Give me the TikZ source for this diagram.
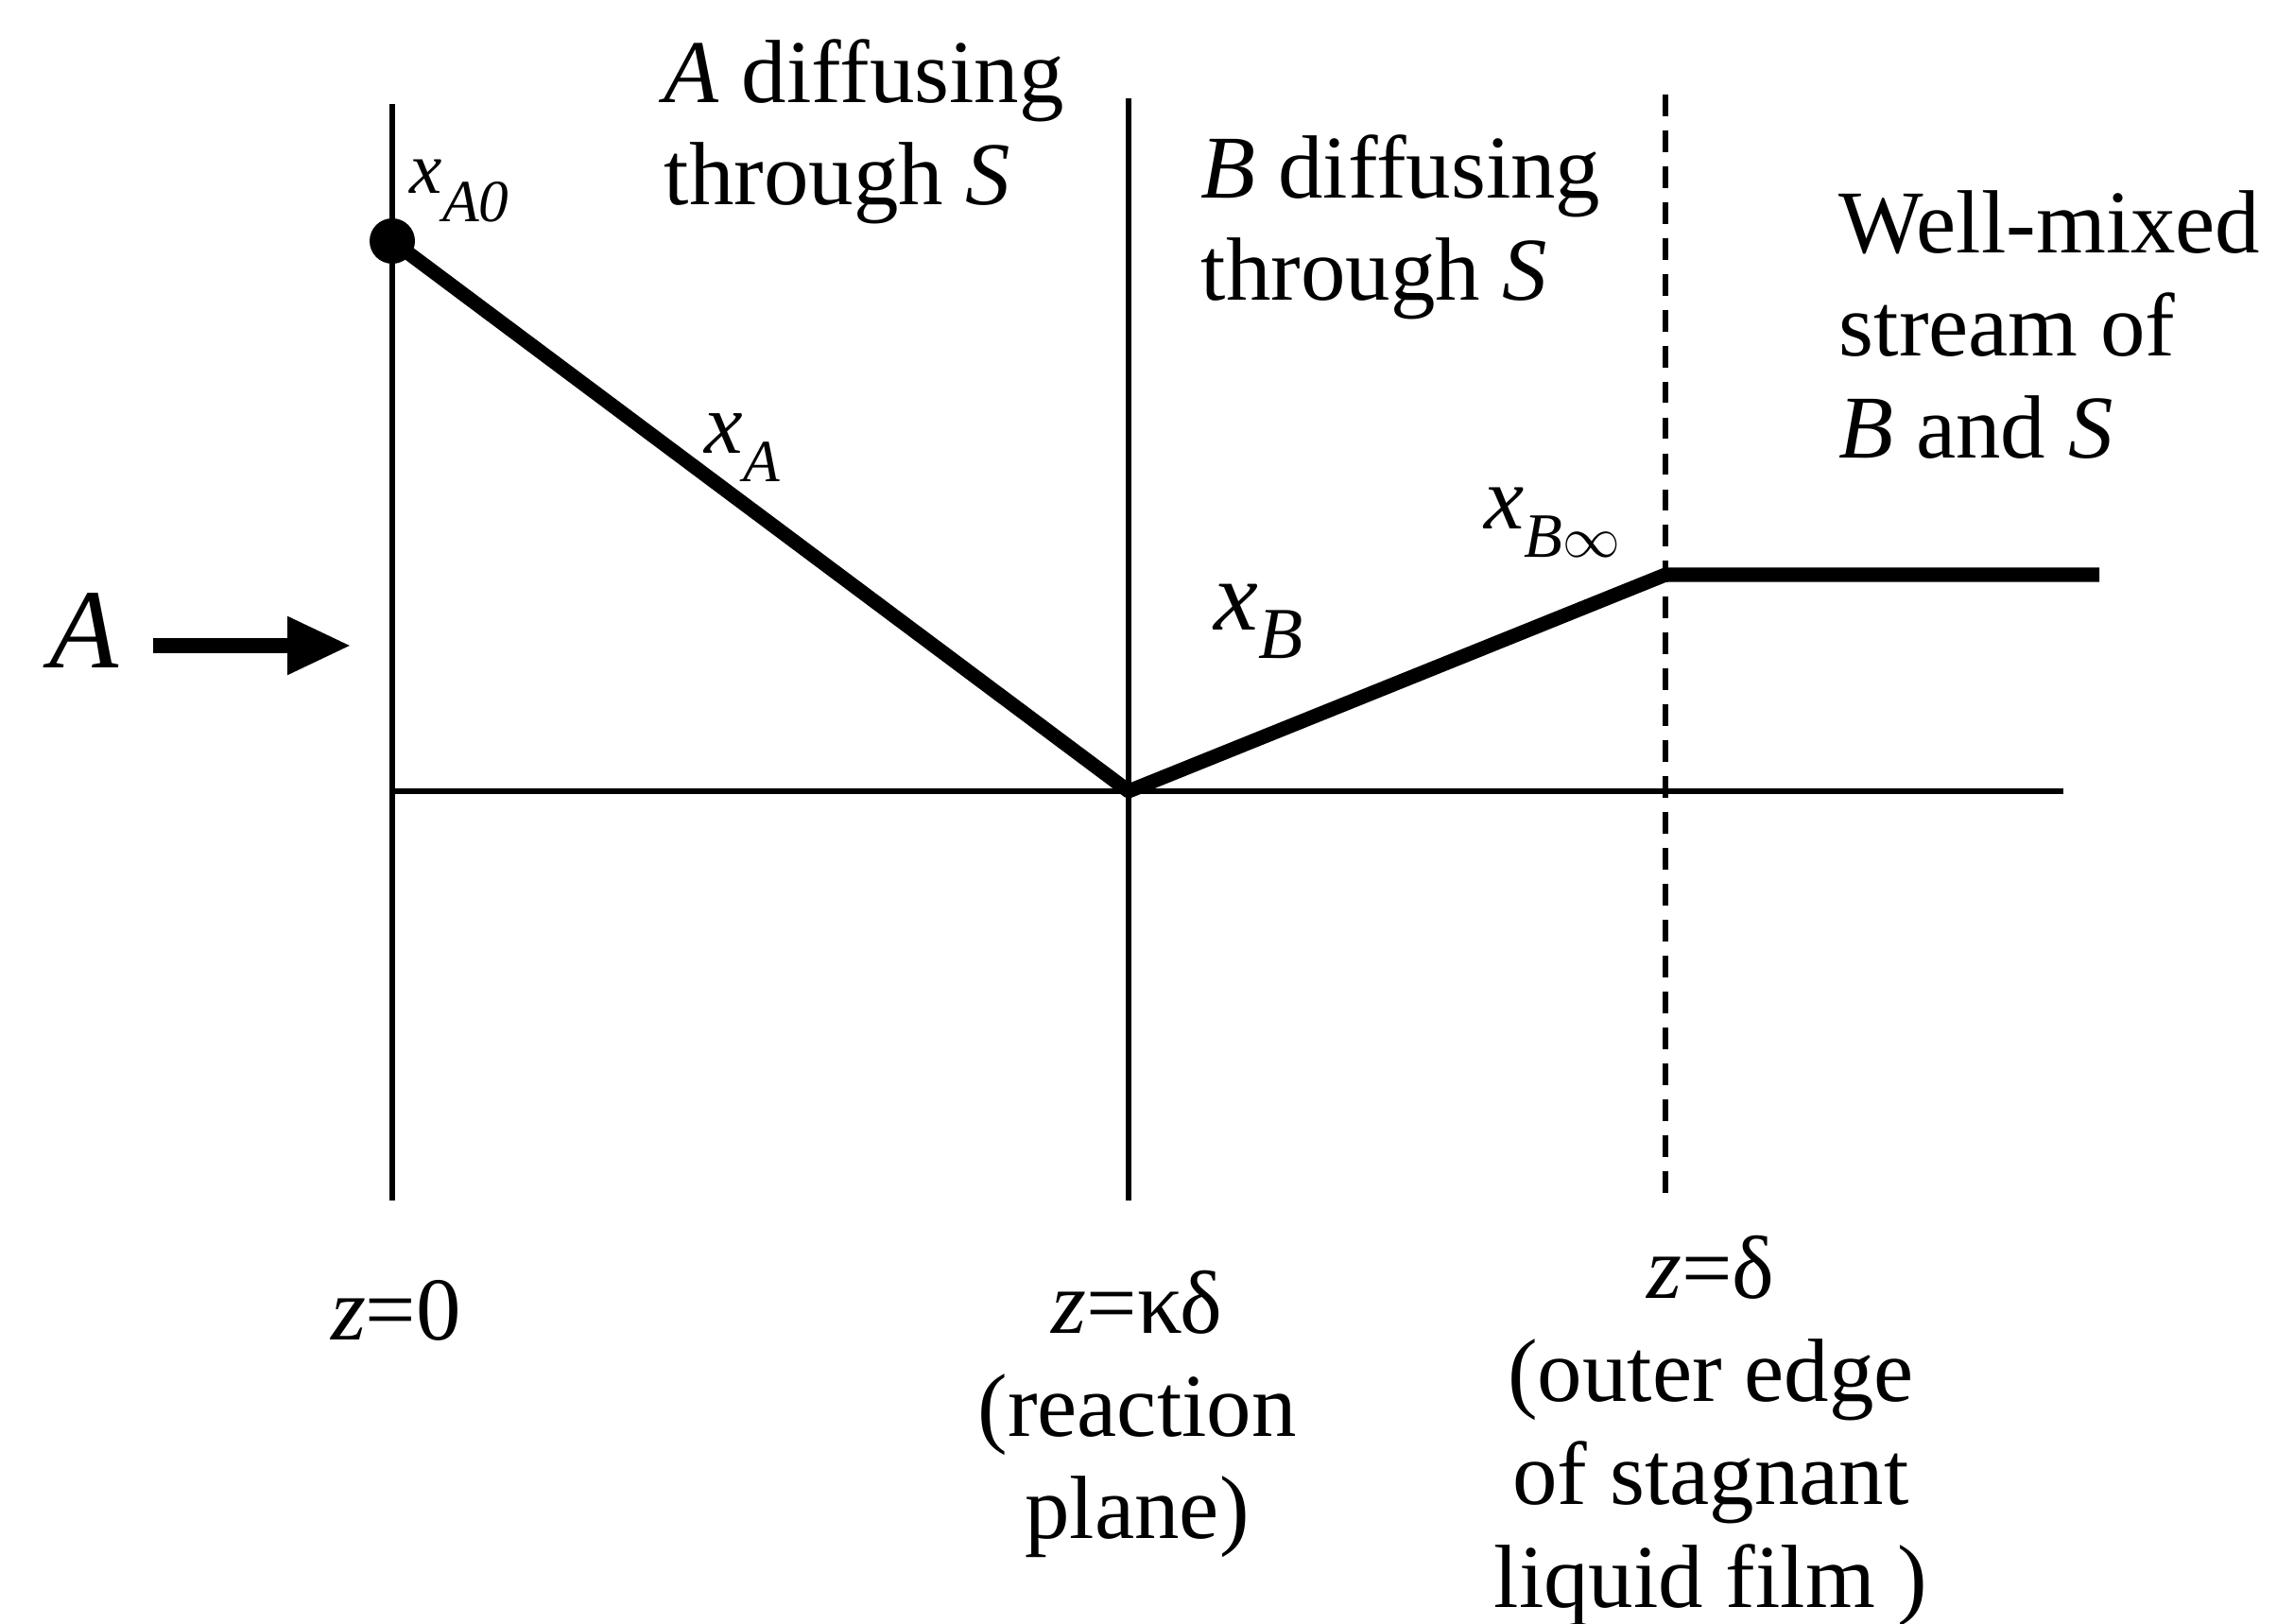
\documentclass[tikz,border=0pt]{standalone}
\usepackage{fontspec}
\setmainfont{Liberation Serif}
\usetikzlibrary{arrows.meta, positioning}

% mole fraction label: x with a lowered subscript
\newcommand{\molfrac}[3]{{\fontsize{#1}{#1}\selectfont\itshape x}\raisebox{-8.5pt}{\fontsize{#2}{#2}\selectfont\itshape #3}}

\begin{document}
\begin{tikzpicture}[
    thinline/.style={line width=1.7pt},
    profile/.style={line width=4.3pt, line join=round},
    feed/.style={line width=4.8pt, -{Triangle[length=6.8mm, width=5.7mm]}},
    lbl/.style={inner sep=0pt, font={\fontsize{27}{31}\selectfont}},
    dot/.style={circle, fill=black, inner sep=0pt, minimum size=4.8mm}
  ]
  \useasboundingbox (0,0) rectangle (24.27,17.17);

  % film boundaries and axis
  \coordinate (w0t) at (4.15,16.07);
  \coordinate (w0b) at (4.15,4.47);
  \coordinate (wkt) at (11.94,16.13);
  \coordinate (wkb) at (11.94,4.47);
  \coordinate (wdt) at (17.62,16.17);
  \coordinate (wdb) at (17.62,4.47);
  \coordinate (ax0) at (4.15,8.80);
  \coordinate (axend) at (21.83,8.80);
  \draw[thinline] (w0t) -- (w0b);
  \draw[thinline] (wkt) -- (wkb);
  \draw[thinline, dash pattern=on 6.5pt off 4.3pt] (wdt) -- (wdb);
  \draw[thinline] (ax0) -- (axend);

  % concentration profile
  \node[dot] (xa0pt) at (4.15,14.62) {};
  \coordinate (rxn) at (11.94,8.80);
  \coordinate (edge) at (17.62,11.09);
  \coordinate (bulkend) at (22.21,11.09);
  \draw[profile] (xa0pt.center) -- (rxn) -- (edge) -- (bulkend);

  % A entering
  \node[lbl, font={\fontsize{34}{34}\selectfont\itshape}, anchor=base] (feedA) at (0.89,10.10) {A};
  \coordinate (feedend) at (3.72,10.34);
  \draw[feed] ([xshift=3.6mm]feedA.east |- feedend) -- (feedend);

  % profile labels
  \node[lbl, anchor=base west] (lxa0) at (4.33,15.12) {\molfrac{22}{18}{A0}};
  \node[lbl, anchor=base west] (lxa) at (7.45,12.37) {\molfrac{26}{18}{A}};
  \node[lbl, anchor=base west] (lxb) at (12.84,10.50) {\molfrac{30}{22}{B}};
  \node[lbl, anchor=base west] (lxbinf) at (15.70,11.57) {\molfrac{27}{19}{B$\infty$}};

  % region labels (base = last line)
  \node[lbl, align=left, anchor=base west] (diffA) at (7.02,15.00) {\textit{A} diffusing\\through \textit{S}};
  \node[lbl, align=left, anchor=base west] (diffB) at (12.70,13.99) {\textit{B} diffusing\\through \textit{S}};
  \node[lbl, align=left, anchor=base west] (bulk) at (19.45,12.32) {Well-mixed\\stream of\\\textit{B} and \textit{S}};

  % positions along z
  \node[lbl, anchor=base] (z0) at (4.19,2.99) {\textit{z}=0};
  \node[lbl, align=center, anchor=base] (zk) at (12.03,0.89) {\textit{z}=κδ\\(reaction\\plane)};
  \node[lbl, align=center, anchor=base] (zd) at (18.10,0.17) {\textit{z}=δ\\(outer edge\\of stagnant\\liquid film )};
\end{tikzpicture}
\end{document}
